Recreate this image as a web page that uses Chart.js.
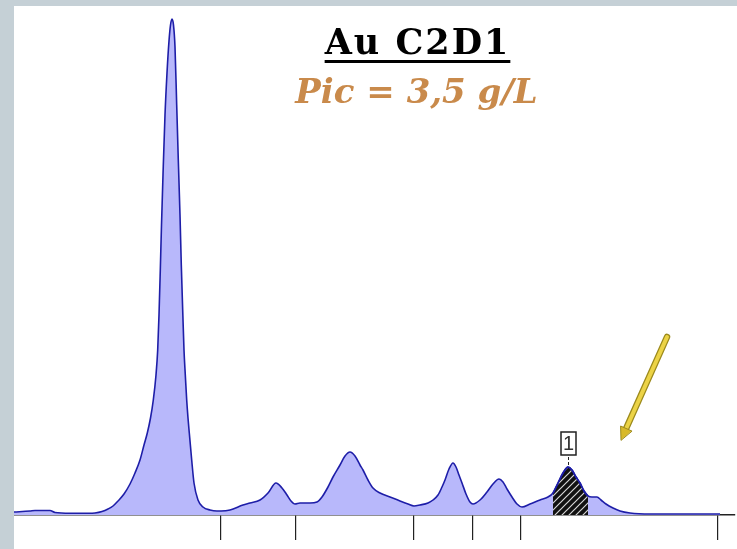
<!DOCTYPE html>
<html>
<head>
<meta charset="utf-8">
<script src="https://cdn.jsdelivr.net/npm/chart.js@4/dist/chart.umd.min.js"></script>
<style>
    html, body { margin: 0; padding: 0; }
    body { width: 737px; height: 549px; background: #c5d0d6; position: relative; overflow: hidden; }
    #wrap { position: absolute; left: 14px; top: 6px; width: 723px; height: 543px; background: #fff; }
    #title { position: absolute; left: 0; width: 737px; top: 22px; text-align: center; padding-left: 98px; box-sizing: border-box;
        font-family: 'DejaVu Serif', serif; font-weight: bold; font-size: 35px; line-height: 40px; letter-spacing: 2px; color: #000; }
    #title span { text-decoration: underline; text-decoration-thickness: 3px; text-underline-offset: 6px; }
    #subtitle { position: absolute; left: 0; width: 737px; top: 72px; text-align: center; padding-left: 96px; box-sizing: border-box;
        font-family: 'DejaVu Serif', serif; font-weight: bold; font-style: italic; font-size: 34px; line-height: 38px; color: #c98a4b; }
</style>
</head>
<body>
<div id="wrap"><canvas id="chart-curve"></canvas></div>
<div id="title"><span>Au C2D1</span></div>
<div id="subtitle">Pic = 3,5 g/L</div>
<script>
// migration position (arbitrary units) and absorbance
const positions = [14, 30, 35, 50, 55, 70, 88, 95, 102, 108, 113, 118, 124, 130, 135, 140, 144, 147.3, 150.5, 153.3, 156, 157.7,
    159, 160.3, 161.5, 163, 165, 167, 169, 170.5, 172, 173.5, 175, 176.7, 178.3, 180, 181.3, 182.7, 184, 185.3, 186.7, 188, 189.3,
    191.7, 194, 198, 203, 210, 217, 221, 230, 243, 250, 260, 268, 276, 282, 287, 291, 295,
    300, 310, 317, 322, 328, 333, 340, 345, 350, 355, 360, 363, 368, 373, 380, 390, 400, 408, 414, 420, 428, 433, 438, 442, 445, 449, 453,
    456, 459, 462, 466, 470, 473, 480, 487, 493, 499, 503, 507, 512, 517, 522, 530, 540, 548, 553, 558, 563, 568, 572, 576, 580, 584, 588,
    592, 597, 601, 606, 613, 620, 630, 650, 700, 720]
const absorbance = [3, 4, 4.5, 4.5, 2.5, 1.7, 1.7, 2, 3.5, 6, 9, 14, 21, 31, 42, 55, 70, 82, 97, 115, 140, 165,
    200, 245, 290, 340, 400, 442, 474, 490, 496, 490, 468, 410, 355, 300, 250, 205, 165, 140, 115, 97, 82,
    55, 32, 15, 8, 5, 4, 4, 5, 10, 12, 15, 22, 32, 27, 20, 14, 11,
    12, 12, 13, 18, 28, 38, 50, 59, 63, 59, 50, 45, 35, 27, 22, 18, 14, 11, 9, 10, 12, 15, 20, 28, 35, 46, 52,
    48, 40, 32, 21, 13, 11, 15, 23, 31, 36, 33, 26, 18, 11, 8, 11, 15, 18, 22, 32, 42, 48, 45, 38, 32, 24, 19,
    18, 18, 15, 11, 7, 4, 2, 1, 1, 1]
// fraction separators under the baseline
const fractionLimits = [221, 296, 414, 473, 521, 718]
// integrated peak 1
const peakStart = 553
const peakEnd = 588
const peakTop = 568
const peakLabel = '1'

function ChartCurve() {
    let curve = document.getElementById('chart-curve')

    let points = positions.map((x, i) => ({ x: x, y: absorbance[i] }))
    let peakPoints = points.filter(p => p.x >= peakStart && p.x <= peakEnd)
    let peakValue = absorbance[positions.indexOf(peakTop)]

    // black hatch with white diagonal stripes
    let tile = document.createElement('canvas')
    tile.width = 7
    tile.height = 7
    let tc = tile.getContext('2d')
    tc.fillStyle = '#111'
    tc.fillRect(0, 0, 7, 7)
    tc.strokeStyle = 'rgba(235, 235, 235, 0.9)'
    tc.lineWidth = 1.2
    tc.beginPath()
    tc.moveTo(-1, 8); tc.lineTo(8, -1)
    tc.moveTo(-1, 1); tc.lineTo(1, -1)
    tc.moveTo(6, 8); tc.lineTo(8, 6)
    tc.stroke()
    let hatch = tc.createPattern(tile, 'repeat')

    let marks = {
        id: 'marks',
        afterDatasetsDraw(chart) {
            let ctx = chart.ctx
            let xs = chart.scales.x
            let ys = chart.scales.y
            let px = xs.getPixelForValue(peakTop)
            let py = ys.getPixelForValue(peakValue)

            // label box above peak 1
            ctx.save()
            ctx.strokeStyle = '#222'
            ctx.lineWidth = 1
            ctx.setLineDash([3, 2])
            ctx.beginPath()
            ctx.moveTo(px + 0.5, py - 2)
            ctx.lineTo(px + 0.5, py - 12)
            ctx.stroke()
            ctx.setLineDash([])
            ctx.fillStyle = '#fff'
            ctx.fillRect(px - 7, py - 35, 15, 23)
            ctx.lineWidth = 1.5
            ctx.strokeRect(px - 7, py - 35, 15, 23)
            ctx.fillStyle = '#333'
            ctx.font = '20px "Liberation Sans", sans-serif'
            ctx.textAlign = 'center'
            ctx.textBaseline = 'middle'
            ctx.fillText(peakLabel, px + 0.5, py - 23)
            ctx.restore()

            // yellow arrow pointing at the peak area
            let x1 = 653, y1 = 331, x2 = 607, y2 = 434
            let ang = Math.atan2(y2 - y1, x2 - x1)
            ctx.save()
            ctx.lineCap = 'round'
            ctx.strokeStyle = '#9c8a1c'
            ctx.lineWidth = 6.5
            ctx.beginPath()
            ctx.moveTo(x1, y1)
            ctx.lineTo(x2 - 8 * Math.cos(ang), y2 - 8 * Math.sin(ang))
            ctx.stroke()
            ctx.strokeStyle = '#ecd346'
            ctx.lineWidth = 4
            ctx.stroke()
            ctx.fillStyle = '#d8b92a'
            ctx.strokeStyle = '#9c8a1c'
            ctx.lineWidth = 1
            ctx.beginPath()
            ctx.moveTo(x2, y2)
            ctx.lineTo(x2 - 14 * Math.cos(ang - 0.45), y2 - 14 * Math.sin(ang - 0.45))
            ctx.lineTo(x2 - 14 * Math.cos(ang + 0.45), y2 - 14 * Math.sin(ang + 0.45))
            ctx.closePath()
            ctx.fill()
            ctx.stroke()
            ctx.restore()
        }
    }

    new Chart(curve, {
        type: 'line',
        data: {
            datasets: [
                {
                    label: 'Pic 1',
                    data: peakPoints,
                    order: 0,
                    fill: 'origin',
                    backgroundColor: hatch,
                    borderColor: '#1e1ea8',
                    borderWidth: 1.6,
                    pointRadius: 0,
                    cubicInterpolationMode: 'monotone'
                },
                {
                    label: 'Profil',
                    data: points,
                    order: 1,
                    fill: 'origin',
                    backgroundColor: '#b8b8fb',
                    borderColor: '#1e1ea8',
                    borderWidth: 1.6,
                    pointRadius: 0,
                    cubicInterpolationMode: 'monotone'
                }
            ]
        },
        options: {
            responsive: true,
            maintainAspectRatio: false,
            animation: false,
            layout: {
                padding: { top: 9, right: 2, bottom: 9, left: 0 }
            },
            scales: {
                x: {
                    type: 'linear',
                    min: 14,
                    max: 735,
                    afterBuildTicks: scale => {
                        scale.ticks = fractionLimits.map(v => ({ value: v }))
                    },
                    ticks: {
                        display: false
                    },
                    border: {
                        display: true,
                        color: '#222',
                        width: 1.5
                    },
                    grid: {
                        display: true,
                        drawOnChartArea: false,
                        drawTicks: true,
                        tickLength: 25,
                        color: '#222',
                        lineWidth: 1.2
                    }
                },
                y: {
                    display: false,
                    min: 0,
                    max: 500
                }
            },
            plugins: {
                filler: {
                    drawTime: 'beforeDatasetsDraw'
                },
                legend: {
                    display: false
                },
                tooltip: {
                    enabled: false
                }
            }
        },
        plugins: [marks]
    })
}

ChartCurve()
</script>
</body>
</html>
